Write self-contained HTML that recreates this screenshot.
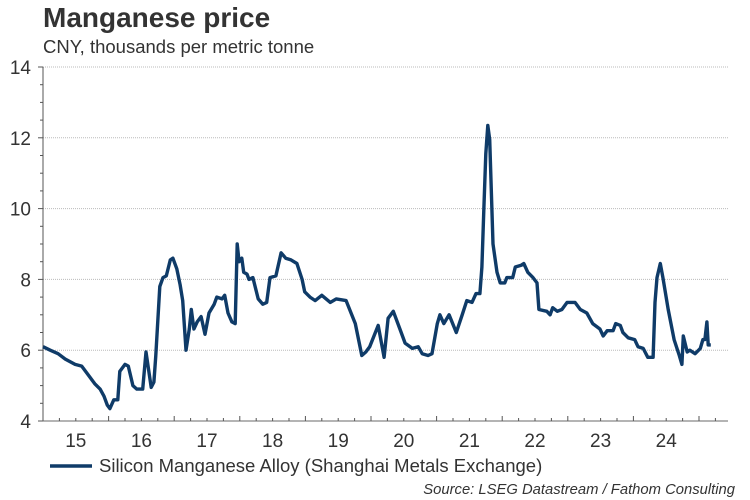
<!DOCTYPE html>
<html><head><meta charset="utf-8"><style>
body{margin:0;background:#fff;font-family:"Liberation Sans",Arial,sans-serif}
svg{display:block}
</style></head><body>
<svg id="chart" width="750" height="500" viewBox="0 0 750 500">
<text x="43" y="27" font-size="28" font-weight="bold" fill="#333">Manganese price</text>
<text x="43" y="53" font-size="18.5" fill="#333">CNY, thousands per metric tonne</text>
<g id="grid"></g><g id="axes"></g>
<path id="line" fill="none" stroke="#0f3b68" stroke-width="3.4" stroke-linejoin="round"/>
<line x1="50" y1="466" x2="92" y2="466" stroke="#0f3b68" stroke-width="3.4"/>
<text x="99" y="472" font-size="18.5" fill="#333">Silicon Manganese Alloy (Shanghai Metals Exchange)</text>
<text x="735" y="494" font-size="14.8" font-style="italic" fill="#333" text-anchor="end">Source: LSEG Datastream / Fathom Consulting</text>
</svg>
<script>
const dates=[2015.00,2015.11,2015.23,2015.34,2015.49,2015.59,2015.69,2015.79,2015.87,2015.93,2015.98,2016.02,2016.08,2016.14,2016.17,2016.25,2016.30,2016.37,2016.43,2016.52,2016.57,2016.65,2016.69,2016.72,2016.78,2016.83,2016.88,2016.94,2016.98,2017.04,2017.09,2017.13,2017.18,2017.23,2017.26,2017.30,2017.35,2017.41,2017.47,2017.53,2017.61,2017.65,2017.73,2017.77,2017.82,2017.88,2017.93,2017.96,2017.99,2018.03,2018.06,2018.11,2018.14,2018.20,2018.28,2018.35,2018.41,2018.46,2018.55,2018.63,2018.70,2018.78,2018.87,2018.95,2018.99,2019.07,2019.15,2019.25,2019.38,2019.47,2019.62,2019.76,2019.86,2019.92,2019.98,2020.11,2020.20,2020.26,2020.34,2020.44,2020.52,2020.63,2020.72,2020.78,2020.87,2020.93,2021.01,2021.05,2021.11,2021.19,2021.30,2021.39,2021.46,2021.54,2021.60,2021.66,2021.69,2021.72,2021.75,2021.78,2021.81,2021.86,2021.92,2021.97,2022.04,2022.07,2022.16,2022.20,2022.29,2022.33,2022.39,2022.47,2022.53,2022.56,2022.68,2022.73,2022.77,2022.84,2022.91,2022.99,2023.11,2023.19,2023.29,2023.38,2023.49,2023.54,2023.60,2023.69,2023.73,2023.80,2023.84,2023.92,2024.02,2024.07,2024.15,2024.22,2024.30,2024.33,2024.36,2024.41,2024.45,2024.53,2024.62,2024.70,2024.74,2024.76,2024.82,2024.86,2024.94,2025.02,2025.06,2025.09,2025.12,2025.14,2025.18];
const prices=[6.1,6.0,5.9,5.75,5.6,5.55,5.3,5.05,4.9,4.7,4.45,4.35,4.6,4.6,5.4,5.6,5.55,5.0,4.9,4.9,5.95,4.95,5.1,5.85,7.8,8.05,8.1,8.55,8.6,8.3,7.85,7.4,6.0,6.6,7.15,6.6,6.8,6.95,6.45,7.05,7.3,7.5,7.45,7.55,7.05,6.8,6.75,9.0,8.5,8.6,8.2,8.15,8.0,8.05,7.45,7.3,7.35,8.05,8.1,8.75,8.6,8.55,8.45,8.0,7.65,7.5,7.4,7.55,7.35,7.45,7.4,6.75,5.85,5.95,6.1,6.7,5.8,6.9,7.1,6.6,6.2,6.05,6.1,5.9,5.85,5.9,6.75,7.0,6.75,7.0,6.5,7.0,7.4,7.35,7.6,7.6,8.35,9.95,11.55,12.35,11.95,9.0,8.2,7.9,7.9,8.05,8.05,8.35,8.4,8.45,8.2,8.05,7.9,7.15,7.1,7.0,7.2,7.1,7.15,7.35,7.35,7.15,7.05,6.75,6.6,6.4,6.55,6.55,6.75,6.7,6.5,6.35,6.3,6.1,6.05,5.8,5.8,7.35,8.05,8.45,8.05,7.15,6.3,5.85,5.6,6.4,5.95,6.0,5.9,6.05,6.3,6.3,6.8,6.15,6.15];
const yTicks=[4,6,8,10,12,14];
const yearLabels=["15","16","17","18","19","20","21","22","23","24"];
const X0=43,X1=728,Y0=421,Y1=67;
const xs=t=>X0+(t-2015)*65.6;
const ys=v=>Y0-(v-4)*(Y0-Y1)/10;
const NS="http://www.w3.org/2000/svg";
function mk(tag,attrs,parent){const e=document.createElementNS(NS,tag);for(const k in attrs)e.setAttribute(k,attrs[k]);parent.appendChild(e);return e;}
const grid=document.getElementById('grid'),axes=document.getElementById('axes');
yTicks.forEach(v=>{
  if(v>4){const g=mk('line',{x1:X0,x2:X1,y1:ys(v),y2:ys(v),stroke:'#bbb','stroke-width':1,'stroke-dasharray':'1,1'},grid);
  
  }
  const t=mk('text',{x:31,y:ys(v)+7,'font-size':19,fill:'#333','text-anchor':'end'},axes);
  t.textContent=v;
  
  
});
for(let v=4;v<=14;v+=0.5){mk('line',{x1:X0-(v%2===0?5:3),x2:X0,y1:ys(v),y2:ys(v),stroke:'#555','stroke-width':1},axes);}
const ya=mk('line',{x1:X0,x2:X0,y1:Y1,y2:Y0,stroke:'#555','stroke-width':1},axes);


const xa=mk('line',{x1:X0,x2:X1,y1:Y0,y2:Y0,stroke:'#888','stroke-width':1.2},axes);


for(let q=0;q<=41;q++){const t=2015+q*0.25;if(xs(t)>X1)break;mk('line',{x1:xs(t),x2:xs(t),y1:Y0,y2:Y0-(q%4===0?5:3),stroke:'#555','stroke-width':1},axes);}
yearLabels.forEach((l,i)=>{
  const t=mk('text',{x:xs(2015.5+i),y:Y0+26,'font-size':19,fill:'#333','text-anchor':'middle'},axes);
  t.textContent=l;
  
  
});
document.getElementById('line').setAttribute('d',dates.map((d,i)=>(i?'L':'M')+xs(d).toFixed(1)+','+ys(prices[i]).toFixed(1)).join(''));
</script>
</body></html>
